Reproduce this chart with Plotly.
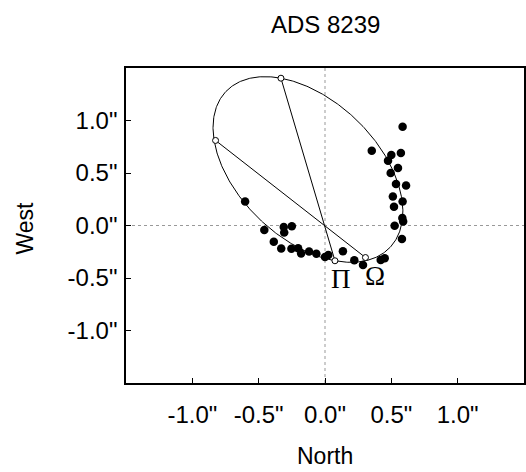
import numpy as np
import plotly.graph_objects as go

# Observed relative positions (North, West) in arcsec
obs_north = [0.585, 0.3525, 0.500, 0.572, 0.475, 0.550, 0.495, 0.535, 0.611, 0.5115,
             0.585, 0.520, 0.583, 0.589, 0.525, 0.580, 0.450, 0.420, 0.2865, 0.221,
             0.135, 0.025, 0.000, -0.065, -0.120, -0.180, -0.2025, -0.253, -0.330, -0.386,
             -0.3075, -0.311, -0.250, -0.4575, -0.602]
obs_west = [0.940, 0.711, 0.671, 0.690, 0.616, 0.548, 0.500, 0.395, 0.381, 0.276,
            0.229, 0.178, 0.071, 0.038, -0.002, -0.129, -0.311, -0.329, -0.376, -0.331,
            -0.245, -0.281, -0.300, -0.269, -0.248, -0.267, -0.216, -0.222, -0.219, -0.154,
            -0.067, -0.014, -0.007, -0.043, 0.229]

# Apparent orbit: apastron / periastron (a diameter through the centre),
# line-of-nodes points, and the conjugate half-diameter of the apparent ellipse
apsides_north = [-0.332, 0.075]
apsides_west = [1.403, -0.336]
nodes_north = [-0.825, 0.305]
nodes_west = [0.810, -0.305]
conjugate_half = [0.686, -0.160]

tick_vals = [-1.0, -0.5, 0.0, 0.5, 1.0]
tick_text = ['-1.0"', '-0.5"', '0.0"', '0.5"', '1.0"']

title_text = "ADS 8239"
x_title = "North"
y_title = "West"

# Apparent ellipse from conjugate diameters
cx = (apsides_north[0] + apsides_north[1]) / 2
cy = (apsides_west[0] + apsides_west[1]) / 2
ux = apsides_north[0] - cx
uy = apsides_west[0] - cy
vx, vy = conjugate_half
t = np.linspace(0, 2 * np.pi, 500)
ex = cx + ux * np.cos(t) + vx * np.sin(t)
ey = cy + uy * np.cos(t) + vy * np.sin(t)

font_main = "Liberation Sans, Arial, Helvetica, sans-serif"
font_serif = "Liberation Serif, DejaVu Serif, serif"

fig = go.Figure()
fig.add_trace(go.Scatter(x=ex, y=ey, mode="lines", line=dict(color="black", width=1), hoverinfo="skip"))
fig.add_trace(go.Scatter(x=apsides_north, y=apsides_west, mode="lines", line=dict(color="black", width=1)))
fig.add_trace(go.Scatter(x=nodes_north, y=nodes_west, mode="lines", line=dict(color="black", width=1)))
fig.add_trace(go.Scatter(x=obs_north, y=obs_west, mode="markers",
                         marker=dict(color="black", size=8.5, line=dict(width=0))))
fig.add_trace(go.Scatter(x=apsides_north + nodes_north, y=apsides_west + nodes_west, mode="markers",
                         marker=dict(color="white", size=6, line=dict(color="black", width=1))))

# Zero lines
fig.add_shape(type="line", xref="x", yref="paper", x0=0, x1=0, y0=0, y1=1,
              line=dict(color="#999", width=1, dash="dot"), layer="below")
fig.add_shape(type="line", xref="paper", yref="y", x0=0, x1=1, y0=0, y1=0,
              line=dict(color="#999", width=1, dash="dot"), layer="below")

fig.add_annotation(x=0.118, y=-0.505, text="Π", showarrow=False,
                   font=dict(family=font_serif, size=27, color="black"))
fig.add_annotation(x=0.375, y=-0.481, text="Ω", showarrow=False,
                   font=dict(family=font_serif, size=27, color="black"))

# Title and axis titles
fig.add_annotation(xref="paper", yref="paper", x=0.5, y=1, yshift=44, text=title_text,
                   showarrow=False, xanchor="center", yanchor="middle",
                   font=dict(family=font_main, size=24, color="black"))
fig.add_annotation(xref="paper", yref="paper", x=0.5, y=0, yshift=-73, text=x_title,
                   showarrow=False, xanchor="center", yanchor="middle",
                   font=dict(family=font_main, size=23, color="black"))
fig.add_annotation(xref="paper", yref="paper", x=0, y=0.5, xshift=-102, yshift=-3, text=y_title,
                   showarrow=False, xanchor="center", yanchor="middle", textangle=-90,
                   font=dict(family=font_main, size=23, color="black"))

axis_common = dict(range=[-1.5, 1.5], tickvals=tick_vals, ticktext=tick_text,
                   ticks="inside", ticklen=5, tickcolor="black", tickwidth=1,
                   showline=True, linecolor="black", linewidth=1.5, mirror=True,
                   showgrid=False, zeroline=False,
                   tickfont=dict(family=font_main, size=24, color="black"))

fig.update_layout(
    width=526, height=472,
    margin=dict(l=126, r=0, t=68, b=89),
    paper_bgcolor="white", plot_bgcolor="white",
    showlegend=False,
    xaxis=dict(**axis_common, ticklabelstandoff=9),
    yaxis=dict(**axis_common, ticklabelstandoff=2),
)

fig.write_html("out.html")
